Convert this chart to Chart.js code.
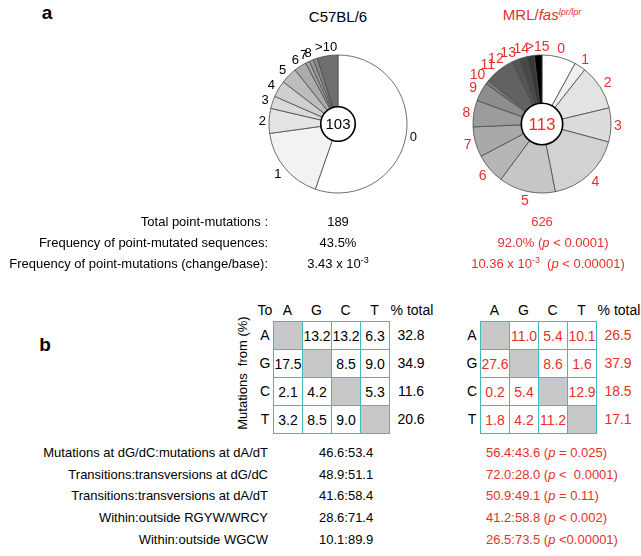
<!DOCTYPE html>
<html>
<head>
<meta charset="utf-8">
<script src="https://cdn.jsdelivr.net/npm/chart.js@4.4.1/dist/chart.umd.min.js"></script>
<style>
  body { margin: 0; background: #fff; }
  #fig { position: relative; width: 641px; height: 556px; overflow: hidden;
         font-family: 'Liberation Sans', Arial, sans-serif; color: #000; }
  .t { position: absolute; white-space: pre; line-height: 1; }
  .red { color: #e5302a; }
  canvas { position: absolute; }
  sup { font-size: 9px; vertical-align: 5px; line-height: 0; }
  .cell { position: absolute; box-sizing: border-box; border: 1px solid #3dbcbc;
          display: flex; align-items: center; justify-content: center; font-size: 14px; }
</style>
</head>
<body>
<div id="fig">
  <canvas id="c57Pie" width="180" height="180" style="left:248px;top:34px"></canvas>
  <canvas id="mrlPie" width="180" height="180" style="left:452px;top:34px"></canvas>
</div>
<script>
// number of sequences carrying 0,1,2... point mutations
const c57Groups = ['0', '1', '2', '3', '4', '5', '6', '7', '8', '', '>10'];
const c57Seqs = [57, 18, 6, 3, 4, 4, 3, 1, 1, 1, 5];
const mrlGroups = ['0', '1', '2', '3', '4', '5', '6', '7', '8', '9', '10', '11', '12', '13', '14', '>15'];
const mrlSeqs = [9, 3, 12, 9, 20, 15, 8, 8, 7, 5, 1, 8, 2, 2, 2, 2];
const c57Total = '103';
const mrlTotal = '113';

const summaryLabels = ['Total point-mutations :', 'Frequency of point-mutated sequences:',
  'Frequency of point-mutations (change/base):'];
const c57Summary = ['189', '43.5%', '3.43 x 10<sup>-3</sup>'];
const mrlSummary = ['626', '92.0% (<i>p</i> &lt; 0.0001)', '10.36 x 10<sup>-3</sup>  (<i>p</i> &lt; 0.00001)'];

const bases = ['A', 'G', 'C', 'T'];
const c57Matrix = [
  [null, 13.2, 13.2, 6.3],
  [17.5, null, 8.5, 9.0],
  [2.1, 4.2, null, 5.3],
  [3.2, 8.5, 9.0, null]
];
const c57RowTotals = [32.8, 34.9, 11.6, 20.6];
const mrlMatrix = [
  [null, 11.0, 5.4, 10.1],
  [27.6, null, 8.6, 1.6],
  [0.2, 5.4, null, 12.9],
  [1.8, 4.2, 11.2, null]
];
const mrlRowTotals = [26.5, 37.9, 18.5, 17.1];

const ratioLabels = ['Mutations at dG/dC:mutations at dA/dT', 'Transitions:transversions at dG/dC',
  'Transitions:transversions at dA/dT', 'Within:outside RGYW/WRCY', 'Within:outside WGCW'];
const c57Ratios = ['46.6:53.4', '48.9:51.1', '41.6:58.4', '28.6:71.4', '10.1:89.9'];
const mrlRatios = ['56.4:43.6 (<i>p</i> = 0.025)', '72.0:28.0 (<i>p</i> &lt;  0.0001)', '50.9:49.1 (<i>p</i> = 0.11)',
  '41.2:58.8 (<i>p</i> &lt; 0.002)', '26.5:73.5 (<i>p</i> &lt;0.00001)'];

const c57Colors = ['#ffffff', '#f2f2f2', '#e4e4e4', '#dadada', '#cfcfcf', '#bdbdbd', '#ababab',
  '#a1a1a1', '#999999', '#8a8a8a', '#6e6e6e'];
const mrlColors = ['#ffffff', '#f0f0f0', '#e3e3e3', '#dcdcdc', '#d2d2d2', '#c6c6c6', '#b6b6b6',
  '#a9a9a9', '#9c9c9c', '#8d8d8d', '#7a7a7a', '#626262', '#555555', '#484848', '#383838', '#000000'];
const RED = '#e5302a';

const fig = document.getElementById('fig');

function put(html, x, y, align, cls, size, weight) {
  const d = document.createElement('div');
  d.className = 't ' + (cls || '');
  d.innerHTML = html;
  d.style.fontSize = (size || 13) + 'px';
  if (weight) d.style.fontWeight = weight;
  d.style.left = x + 'px';
  d.style.top = y + 'px';
  const tx = align === 'center' ? '-50%' : align === 'right' ? '-100%' : '0';
  d.style.transform = 'translate(' + tx + ', -50%)';
  fig.appendChild(d);
  return d;
}

function overlaps(a, b) {
  return a.x0 < b.x1 && b.x0 < a.x1 && a.y0 < b.y1 && b.y0 < a.y1;
}

// slice labels round the rim + white centre disc with the count of sequences
const pieLabels = {
  id: 'pieLabels',
  afterDatasetsDraw(chart, args, opts) {
    const ctx = chart.ctx;
    const meta = chart.getDatasetMeta(0);
    ctx.save();
    ctx.textAlign = 'center';
    ctx.textBaseline = 'middle';
    ctx.font = opts.font;
    ctx.fillStyle = opts.color;
    const place = (p, a, w) => {
      const r = p.outerRadius + 3 + Math.abs(Math.cos(a)) * w / 2 + Math.abs(Math.sin(a)) * opts.h / 2;
      const x = p.x + Math.cos(a) * r, y = p.y + Math.sin(a) * r;
      // loose box: labels may touch a little, as in the print
      const bw = w * 0.4, bh = opts.h * 0.3;
      return { x, y, x0: x - bw, x1: x + bw, y0: y - bh, y1: y + bh };
    };
    let prev = null;
    // go anticlockwise from the last slice, nudging crowded labels apart
    for (let i = meta.data.length - 1; i >= 0; i--) {
      const lab = chart.data.labels[i];
      if (!lab) continue;
      const p = meta.data[i].getProps(['x', 'y', 'startAngle', 'endAngle', 'outerRadius'], true);
      const mid = (p.startAngle + p.endAngle) / 2;
      const w = ctx.measureText(lab).width;
      let a = mid;
      let box = place(p, a, w);
      while (opts.spread && prev && overlaps(box, prev) && a > mid - 0.4) {
        a -= 0.01;
        box = place(p, a, w);
      }
      ctx.fillText(lab, box.x, box.y + 1);
      prev = box;
    }
    const a0 = meta.data[0];
    ctx.beginPath();
    ctx.arc(a0.x, a0.y, a0.innerRadius, 0, Math.PI * 2);
    ctx.fillStyle = '#fff';
    ctx.fill();
    ctx.lineWidth = 1.6;
    ctx.strokeStyle = '#000';
    ctx.stroke();
    ctx.fillStyle = opts.color;
    ctx.font = opts.centerFont;
    ctx.fillText(opts.centerText, a0.x, a0.y + 1);
    ctx.restore();
  }
};

function makePie(id, labels, counts, colors, opts) {
  return new Chart(document.getElementById(id), {
    type: 'doughnut',
    data: {
      labels: labels,
      datasets: [{ data: counts, backgroundColor: colors, borderColor: '#4a4a4a', borderWidth: 0.8 }]
    },
    options: {
      responsive: false,
      animation: false,
      radius: 69,
      cutout: opts.cutout,
      plugins: {
        legend: { display: false },
        tooltip: { enabled: false },
        pieLabels: opts
      }
    },
    plugins: [pieLabels]
  });
}

makePie('c57Pie', c57Groups, c57Seqs, c57Colors, {
  cutout: '25%', color: '#000', font: '13px "Liberation Sans", Arial', h: 9, spread: false,
  centerText: c57Total, centerFont: '15px "Liberation Sans", Arial'
});
makePie('mrlPie', mrlGroups, mrlSeqs, mrlColors, {
  cutout: '30%', color: RED, font: '14px "Liberation Sans", Arial', h: 10, spread: true,
  centerText: mrlTotal, centerFont: '17px "Liberation Sans", Arial'
});

// panel a text
put('a', 47, 12, 'center', '', 19, 'bold');
put('C57BL/6', 338, 16, 'center', '', 15);
put('MRL/<i>fas</i><sup><i>lpr/lpr</i></sup>', 542, 14, 'center', 'red', 15);

const mrlSummaryX = [542, 553, 548];
summaryLabels.forEach((s, i) => {
  const y = 221 + i * 21;
  put(s, 268, y, 'right');
  put(c57Summary[i], 338, y, 'center');
  put(mrlSummary[i], mrlSummaryX[i], y, 'center', 'red');
});

// panel b
put('b', 45, 344, 'center', '', 19, 'bold');

function drawMatrix(mat, totals, gx, gy, cls, withTo) {
  const cw = 29, ch = 28;
  const hy = gy - 11;
  if (withTo) put('To', gx - 8, hy, 'center', '', 14);
  bases.forEach((b, j) => put(b, gx + cw * j + cw / 2, hy, 'center', '', 14));
  put('% total', gx + cw * 4 + 23, hy, 'center', '', 14);
  mat.forEach((row, i) => {
    const cy = gy + ch * i + ch / 2;
    put(bases[i], gx - 8, cy, 'center', '', 14);
    row.forEach((v, j) => {
      const c = document.createElement('div');
      c.className = 'cell ' + cls;
      c.style.left = (gx + cw * j) + 'px';
      c.style.top = (gy + ch * i) + 'px';
      c.style.width = (cw + 1) + 'px';
      c.style.height = (ch + 1) + 'px';
      c.style.background = v === null ? '#c8c8c8' : '#fff';
      c.textContent = v === null ? '' : v.toFixed(1);
      fig.appendChild(c);
    });
    put(totals[i].toFixed(1), gx + cw * 4 + 22, cy, 'center', cls, 14);
  });
}

drawMatrix(c57Matrix, c57RowTotals, 273, 321, '', true);
drawMatrix(mrlMatrix, mrlRowTotals, 480, 321, 'red', false);

const rot = put('Mutations  from (%)', 242, 373, 'center', '', 13);
rot.style.transform = 'translate(-50%, -50%) rotate(-90deg)';

ratioLabels.forEach((s, i) => {
  const y = 452 + i * 21.7;
  put(s, 268, y, 'right');
  put(c57Ratios[i], 319, y, 'left');
  put(mrlRatios[i], 486, y, 'left', 'red');
});
</script>
</body>
</html>
